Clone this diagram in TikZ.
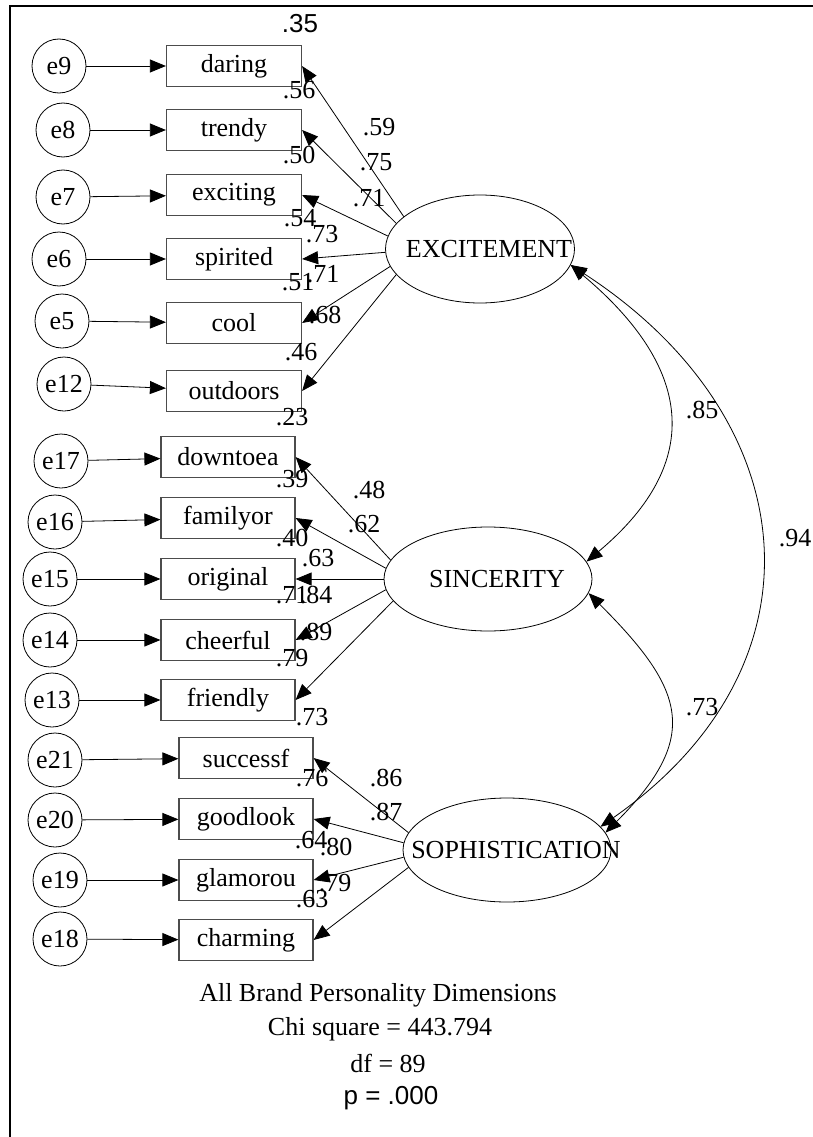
\documentclass[tikz,border=0pt]{standalone}
\usepackage{fontspec}
\setmainfont{Liberation Serif}
\newfontfamily\arialfont{Liberation Sans}
\usetikzlibrary{arrows.meta, shapes.geometric}
\newcommand{\lvname}[1]{\makebox[0pt]{\hspace*{18pt}#1}}

\begin{document}
\begin{tikzpicture}[x=1pt, y=1pt,
    every node/.style={font=\fontsize{26}{30}\selectfont},
    obs/.style={draw=black!70, line width=1.2pt, rectangle, minimum width=135, minimum height=41, inner sep=0},
    err/.style={draw, line width=0.8pt, circle, minimum size=54, inner sep=0},
    lat/.style={draw, line width=0.8pt, ellipse, minimum width=208, minimum height=104, inner sep=0},
    arr/.style={-{Triangle[length=16pt,width=13pt]}, line width=0.8pt},
    cov/.style={{Triangle[length=16pt,width=13pt]}-{Triangle[length=16pt,width=13pt]}, line width=0.8pt},
    num/.style={inner sep=0},
    sans/.style={font=\arialfont\fontsize{26}{30}\selectfont}]

    \useasboundingbox (0,0) rectangle (813,-1137);
    % marco
    \draw[line width=2.5pt] (813,-6) -- (10,-6) -- (10,-1137);

    % Excitement
    \node[lat, minimum width=189, minimum height=108] (exc) at (480,-249) {\lvname{EXCITEMENT}};
    \node[obs] (daring) at (234,-66) {daring};
    \node[obs] (trendy) at (234,-130) {trendy};
    \node[obs] (exciting) at (234,-195) {exciting};
    \node[obs] (spirited) at (234,-259) {spirited};
    \node[obs] (cool) at (234,-323) {cool};
    \node[obs] (outdoors) at (234,-391) {outdoors};
    \node[err] (e9) at (59,-66) {e9};
    \node[err] (e8) at (63,-130) {e8};
    \node[err] (e7) at (63,-197) {e7};
    \node[err] (e6) at (59,-259) {e6};
    \node[err] (e5) at (62,-321) {e5};
    \node[err] (e12) at (64,-384) {e12};
    \draw[arr] (e9) -- (daring);
    \draw[arr] (e8) -- (trendy);
    \draw[arr] (e7) -- (exciting);
    \draw[arr] (e6) -- (spirited);
    \draw[arr] (e5) -- (cool);
    \draw[arr] (e12) -- (outdoors);
    \draw[arr] (exc.157) -- (daring.east);
    \draw[arr] (exc.163) -- (trendy.east);
    \draw[arr] (exc.172) -- (exciting.east);
    \draw[arr] (exc.182) -- (spirited.east);
    \draw[arr] (exc.191) -- (cool.east);
    \draw[arr] (exc.197) -- (outdoors.east);
    \node[num, sans] (r9) at (300,-24) {.35};
    \node[num] (r8) at (299,-90) {.56};
    \node[num] (r7) at (299,-155) {.50};
    \node[num] (r6) at (300,-218) {.54};
    \node[num] (r5) at (298,-282) {.51};
    \node[num] (r12) at (301,-352) {.46};
    \node[num] (l9) at (379,-127) {.59};
    \node[num] (l8) at (376,-162) {.75};
    \node[num] (l7) at (369,-198) {.71};
    \node[num] (l6) at (322,-234) {.73};
    \node[num] (l5) at (323,-274) {.71};
    \node[num] (l12) at (325,-315) {.68};

    % Sincerity
    \node[lat] (sinc) at (488,-579) {\lvname{SINCERITY}};
    \node[obs, minimum width=134] (downtoea) at (228,-457) {downtoea};
    \node[obs, minimum width=134] (familyor) at (228,-518) {familyor};
    \node[obs, minimum width=134] (original) at (228,-579) {original};
    \node[obs, minimum width=134] (cheerful) at (228,-640) {cheerful};
    \node[obs, minimum width=134] (friendly) at (228,-700) {friendly};
    \node[err] (e17) at (61,-461) {e17};
    \node[err] (e16) at (55,-522) {e16};
    \node[err] (e15) at (50,-579) {e15};
    \node[err] (e14) at (50,-640) {e14};
    \node[err] (e13) at (52,-700) {e13};
    \draw[arr] (e17) -- (downtoea);
    \draw[arr] (e16) -- (familyor);
    \draw[arr] (e15) -- (original);
    \draw[arr] (e14) -- (cheerful);
    \draw[arr] (e13) -- (friendly);
    \draw[arr] (sinc.169) -- (downtoea.east);
    \draw[arr] (sinc.174) -- (familyor.east);
    \draw[arr] (sinc.180) -- (original.east);
    \draw[arr] (sinc.186) -- (cheerful.east);
    \draw[arr] (sinc.193) -- (friendly.east);
    \node[num] (r17) at (292,-417) {.23};
    \node[num] (r16) at (292,-479) {.39};
    \node[num] (r15) at (292,-538) {.40};
    \node[num] (r14) at (292,-595) {.71};
    \node[num] (r13) at (292,-658) {.79};
    \node[num] (l17) at (369,-490) {.48};
    \node[num] (l16) at (364,-524) {.62};
    \node[num] (l15) at (318,-558) {.63};
    \node[num] (l14) at (316,-595) {.84};
    \node[num] (l13) at (316,-632) {.89};

    % Sophistication
    \node[lat] (soph) at (507,-850) {\lvname{SOPHISTICATION}};
    \node[obs, minimum width=134] (successf) at (246,-758) {successf};
    \node[obs, minimum width=134] (goodlook) at (246,-819) {goodlook};
    \node[obs, minimum width=134] (glamorou) at (246,-880) {glamorou};
    \node[obs, minimum width=134] (charming) at (246,-940) {charming};
    \node[err] (e21) at (55,-760) {e21};
    \node[err] (e20) at (55,-820) {e20};
    \node[err] (e19) at (60,-880) {e19};
    \node[err] (e18) at (60,-939) {e18};
    \draw[arr] (e21) -- (successf);
    \draw[arr] (e20) -- (goodlook);
    \draw[arr] (e19) -- (glamorou);
    \draw[arr] (e18) -- (charming);
    \draw[arr] (soph.170) -- (successf.east);
    \draw[arr] (soph.176) -- (goodlook.east);
    \draw[arr] (soph.184) -- (glamorou.east);
    \draw[arr] (soph.190) -- (charming.east);
    \node[num] (r21) at (312,-717) {.73};
    \node[num] (r20) at (312,-778) {.76};
    \node[num] (r19) at (311,-840) {.64};
    \node[num] (r18) at (312,-899) {.63};
    \node[num] (l21) at (386,-778) {.86};
    \node[num] (l20) at (386,-812) {.87};
    \node[num] (l19) at (336,-847) {.80};
    \node[num] (l18) at (335,-883) {.79};

    % covarianzas
    \draw[cov] (exc.-10) to[out=-40, in=40, looseness=1.35] (sinc.10);
    \draw[cov] (sinc.-8) to[out=-45, in=45, looseness=1.45] (soph.10);
    \draw[cov] (exc.-10) to[out=-33, in=35, looseness=1.28] (soph.14);
    \node[num] (c1) at (702,-410) {.85};
    \node[num] (c2) at (702,-707) {.73};
    \node[num] (c3) at (795,-538) {.94};

    % ajuste
    \node[num] (t1) at (378,-995) {All Brand Personality Dimensions};
    \node[num] (t2) at (380,-1029) {Chi square = 443.794};
    \node[num] (t3) at (388,-1063) {df = 89};
    \node[num, sans] (t4) at (391,-1098) {p = .000};
\end{tikzpicture}
\end{document}
